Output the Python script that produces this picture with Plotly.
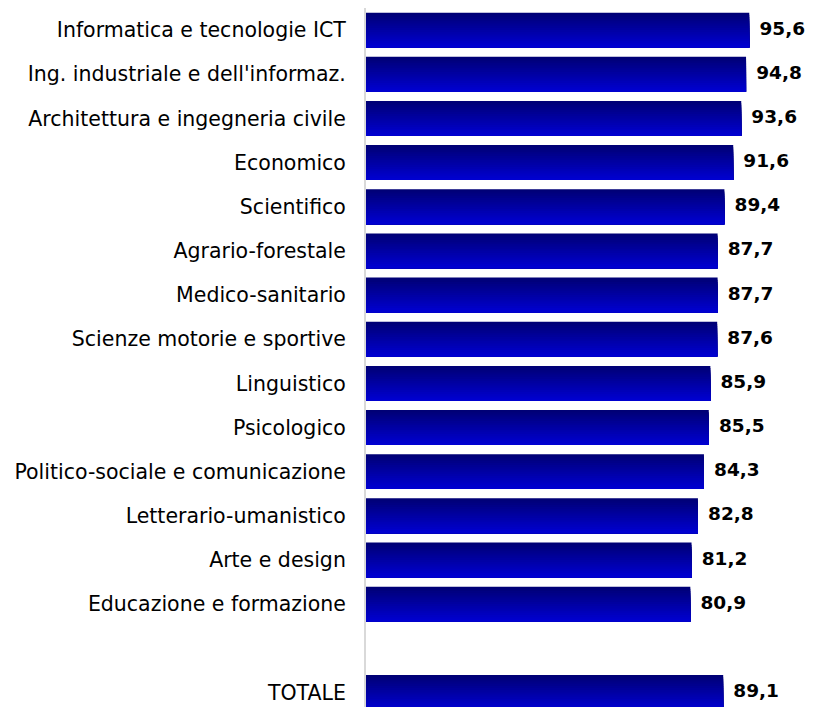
import plotly.graph_objects as go

categories = [
    "Informatica e tecnologie ICT",
    "Ing. industriale e dell'informaz.",
    "Architettura e ingegneria civile",
    "Economico",
    "Scientifico",
    "Agrario-forestale",
    "Medico-sanitario",
    "Scienze motorie e sportive",
    "Linguistico",
    "Psicologico",
    "Politico-sociale e comunicazione",
    "Letterario-umanistico",
    "Arte e design",
    "Educazione e formazione",
    " ",
    "TOTALE",
]
values = [95.6, 94.8, 93.6, 91.6, 89.4, 87.7, 87.7, 87.6, 85.9, 85.5, 84.3, 82.8, 81.2, 80.9, None, 89.1]

bar_cats = [c for c, v in zip(categories, values) if v is not None]
bar_vals = [v for v in values if v is not None]

FONT = "DejaVu Sans"
fig = go.Figure()

N = 16
W = 0.79
c_top = (0, 0, 118)
c_bot = (0, 0, 208)
for i in range(N):
    t = i / (N - 1)
    col = tuple(round(c_top[k] + (c_bot[k] - c_top[k]) * t) for k in range(3))
    fig.add_trace(go.Bar(
        x=bar_vals, y=bar_cats, orientation="h",
        width=W - i * W / N, offset=-W / 2 + i * W / N,
        marker=dict(color="rgb(%d,%d,%d)" % col, line=dict(width=0)),
        hoverinfo="skip", showlegend=False,
    ))

fig.add_trace(go.Scatter(
    x=bar_vals, y=bar_cats, mode="text",
    text=[" \u2009" + ("%.1f" % v).replace(".", ",") for v in bar_vals],
    textposition="middle right",
    textfont=dict(family=FONT, size=18.5, color="#000000", weight="bold"),
    cliponaxis=False, showlegend=False, hoverinfo="skip",
))

fig.update_layout(
    width=805, height=699,
    margin=dict(l=358, r=0, t=0, b=0),
    barmode="overlay",
    plot_bgcolor="white", paper_bgcolor="white",
    xaxis=dict(range=[0, 111.5], visible=False, fixedrange=True),
    yaxis=dict(
        type="category", categoryorder="array", categoryarray=categories,
        range=[15.33, -0.5],
        showline=True, linecolor="#d9d9d9", linewidth=2,
        showgrid=False, zeroline=False,
        ticks="", ticklabelstandoff=14,
        tickfont=dict(family=FONT, size=20.5, color="#000000"),
    ),
)

fig.write_html("out.html")
